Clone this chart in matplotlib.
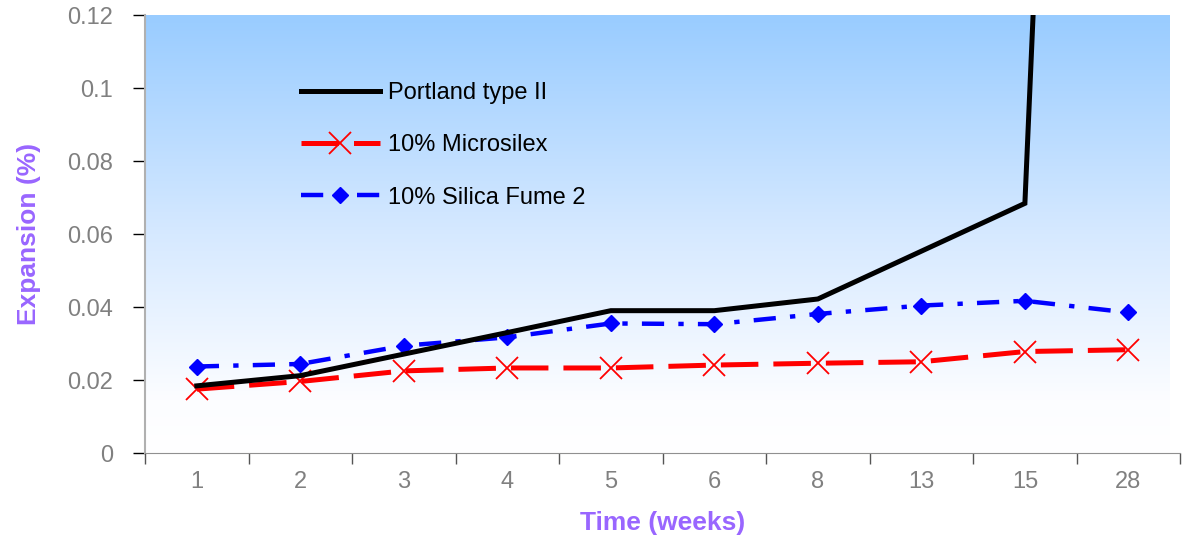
import numpy as np
import matplotlib
matplotlib.use("Agg")
import matplotlib.pyplot as plt
from matplotlib.colors import LinearSegmentedColormap

plt.rcParams['font.family'] = ['Liberation Sans', 'DejaVu Sans']

semanas = ['1', '2', '3', '4', '5', '6', '8', '13', '15', '28']
portland = [0.0184, 0.0212, 0.0271, 0.0330, 0.0390, 0.0390, 0.0422, 0.0553, 0.0684, 0.72]
microsilex = [0.0175, 0.0196, 0.0225, 0.0233, 0.0233, 0.0241, 0.0246, 0.0250, 0.0278, 0.0283]
silica_fume = [0.0237, 0.0244, 0.0294, 0.0317, 0.0355, 0.0353, 0.0381, 0.0404, 0.0417, 0.0385]

color_titulo = '#9966ff'
color_ticks = '#808080'

fig = plt.figure(figsize=(11.83, 5.37), dpi=100)
ax = fig.add_axes([0.1226, 0.1564, 0.875, 0.8156])

x = np.arange(len(semanas))

# fondo degradado: azul arriba, blanco abajo
fondo = LinearSegmentedColormap.from_list(
    'fondo', [(0.0, '#ffffff'), (0.12, '#fcfdff'), (0.5, '#d6e9ff'), (1.0, '#99ccff')], N=256)
grad = np.linspace(0, 1, 256).reshape(-1, 1)
ax.imshow(grad, cmap=fondo, aspect='auto', origin='lower',
          extent=(-0.5, 9.4, 0, 0.12), zorder=0)

ax.plot(x, portland, color='black', lw=3.6, solid_joinstyle='miter',
        label='Portland type II', zorder=3)
ax.plot(x, microsilex, color='red', lw=3.6, dashes=(7.5, 3.0),
        marker='x', markersize=16, markeredgewidth=1.3,
        label='10% Microsilex', zorder=2)
ax.plot(x, silica_fume, color='#0000ff', lw=3.2, dashes=(5, 3.2, 1.2, 3.2),
        marker='D', markersize=8.5,
        label='10% Silica Fume 2', zorder=2)

ax.set_xlim(-0.5, 9.5)
ax.set_ylim(0, 0.12)

# ticks del eje x entre categorias, etiquetas centradas
ax.set_xticks(np.arange(-0.5, 10, 1))
ax.set_xticklabels([])
ax.set_xticks(x, minor=True)
ax.set_xticklabels(semanas, minor=True)
ax.tick_params(axis='x', which='major', length=8, width=1, color='#555555', direction='out')
ax.tick_params(axis='x', which='minor', length=0, pad=13, labelsize=17, labelcolor=color_ticks)

ax.set_yticks([0, 0.02, 0.04, 0.06, 0.08, 0.1, 0.12])
ax.set_yticklabels(['0', '0.02', '0.04', '0.06', '0.08', '0.1', '0.12'])
ax.tick_params(axis='y', length=9, width=1, color='black', direction='out',
               labelsize=17, labelcolor=color_ticks, pad=14)

for lado in ['top', 'right']:
    ax.spines[lado].set_visible(False)
ax.spines['left'].set_color('#b0b0b0')
ax.spines['bottom'].set_color('#909090')
ax.spines['left'].set_linewidth(1.5)

ax.set_xlabel('Time (weeks)', fontsize=19, fontweight='bold', color=color_titulo, labelpad=13)
ax.set_ylabel('Expansion (%)', fontsize=19, fontweight='bold', color=color_titulo, labelpad=19)

ax.legend(loc='upper left', bbox_to_anchor=(0.130, 0.895), frameon=False,
          fontsize=17, handlelength=3.35, labelspacing=1.28, numpoints=1,
          handletextpad=0.33)

plt.savefig('out.png', dpi=100)
